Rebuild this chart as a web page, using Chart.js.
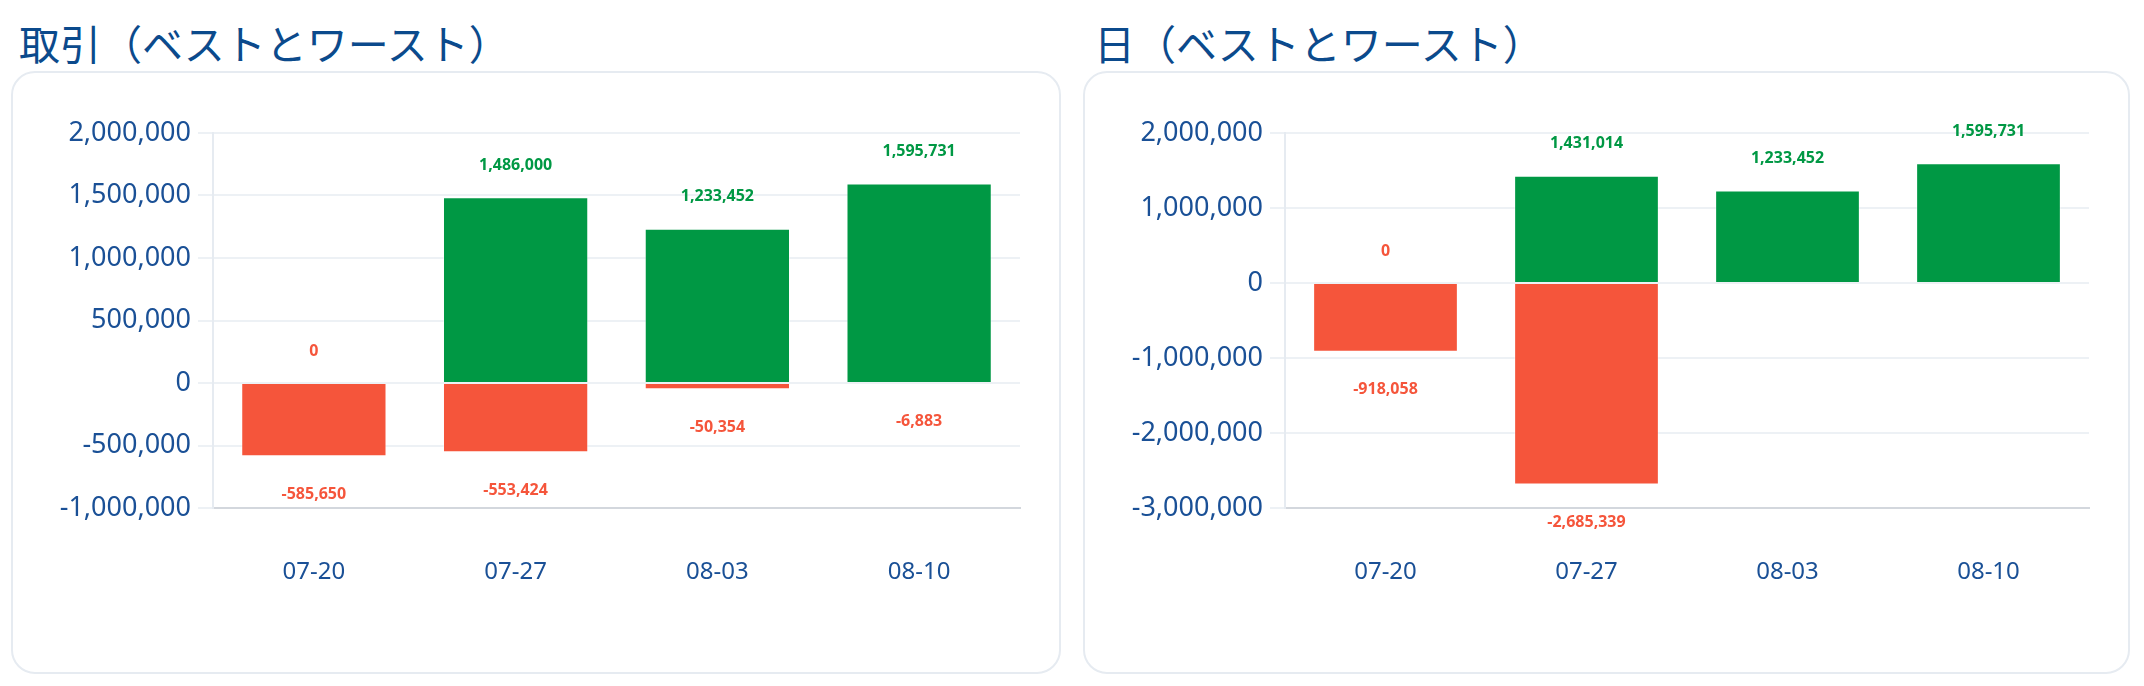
<!DOCTYPE html>
<html>
<head>
<meta charset="utf-8">
<script src="https://cdn.jsdelivr.net/npm/chart.js@4.4.1/dist/chart.umd.min.js"></script>
<style>
  body { margin: 0; background: #fff; width: 2144px; height: 686px; overflow: hidden; }
  .title {
    position: absolute;
    font-family: "Noto Sans CJK JP", "Noto Sans", sans-serif;
    font-size: 41px;
    line-height: 49px;
    color: #0b4a8c;
    white-space: nowrap;
  }
  .card {
    position: absolute;
    box-sizing: border-box;
    border: 2px solid #e6ebf1;
    border-radius: 24px;
    background: #fff;
  }
  .wrap { position: absolute; }
</style>
</head>
<body>
<div class="title" style="left:19px; top:18px;">取引（ベストとワースト）</div>
<div class="card" style="left:11px; top:71px; width:1050px; height:603px;"></div>
<div class="wrap" style="left:11px; top:71px; width:1050px; height:603px;"><canvas id="tradeChart"></canvas></div>

<div class="title" style="left:1094px; top:18px;">日（ベストとワースト）</div>
<div class="card" style="left:1083px; top:71px; width:1047px; height:603px;"></div>
<div class="wrap" style="left:1083px; top:71px; width:1047px; height:603px;"><canvas id="dayChart"></canvas></div>

<script>
const weeks = ["07-20", "07-27", "08-03", "08-10"];

const tradeBest = [0, 1486000, 1233452, 1595731];
const tradeWorst = [-585650, -553424, -50354, -6883];

const dayBest = [0, 1431014, 1233452, 1595731];
const dayWorst = [-918058, -2685339, null, null];

const GREEN = "#009844";
const RED = "#f5553b";
const TEXT = "#1a5096";
const FONT = "'Noto Sans', 'Noto Sans CJK JP', sans-serif";

// value labels above the best bars and below the worst bars
const valueLabels = {
  id: "valueLabels",
  afterDatasetsDraw(chart) {
    const ctx = chart.ctx;
    ctx.save();
    ctx.font = "bold 16px " + FONT;
    ctx.textAlign = "center";
    ctx.textBaseline = "middle";
    chart.data.datasets.forEach((ds, i) => {
      const meta = chart.getDatasetMeta(i);
      meta.data.forEach((bar, j) => {
        const v = ds.data[j];
        if (v === null || v === undefined) return;
        ctx.fillStyle = v > 0 ? GREEN : RED;
        const y = i === 0 ? bar.y - 32 : bar.y + 38;
        ctx.fillText(v.toLocaleString("en-US"), bar.x, y);
      });
    });
    ctx.restore();
  },
};

function makeChart(id, best, worst, min, max, step) {
  const ctx = document.getElementById(id).getContext("2d");
  return new Chart(ctx, {
    type: "bar",
    data: {
      labels: weeks,
      datasets: [
        {
          label: "ベスト",
          data: best,
          backgroundColor: GREEN,
          borderColor: "rgba(255,255,255,0.45)",
          borderWidth: 1,
        },
        {
          label: "ワースト",
          data: worst,
          backgroundColor: RED,
          borderColor: "rgba(255,255,255,0.45)",
          borderWidth: 1,
        },
      ],
    },
    options: {
      responsive: true,
      maintainAspectRatio: false,
      animation: false,
      layout: { padding: { top: 62, right: 41, left: 0, bottom: 0 } },
      plugins: {
        legend: { display: false },
        tooltip: { enabled: false },
      },
      scales: {
        x: {
          stacked: true,
          grid: { display: false, drawTicks: false },
          border: { display: true, color: "#d3d7dd", width: 2 },
          ticks: { color: TEXT, font: { family: FONT, size: 24 }, padding: 50 },
          afterFit(scale) { scale.height = 166; },
        },
        y: {
          stacked: true,
          min: min,
          max: max,
          grid: { color: "#edf1f5", lineWidth: 2, tickLength: 15 },
          border: { display: true, color: "#e6ebf1", width: 2 },
          ticks: {
            stepSize: step,
            color: TEXT,
            font: { family: FONT, size: 27 },
            padding: 7,
            callback: (v) => v.toLocaleString("en-US"),
          },
          afterFit(scale) { scale.width = 202; },
        },
      },
    },
    plugins: [valueLabels],
  });
}

makeChart("tradeChart", tradeBest, tradeWorst, -1000000, 2000000, 500000);
makeChart("dayChart", dayBest, dayWorst, -3000000, 2000000, 1000000);
</script>
</body>
</html>
